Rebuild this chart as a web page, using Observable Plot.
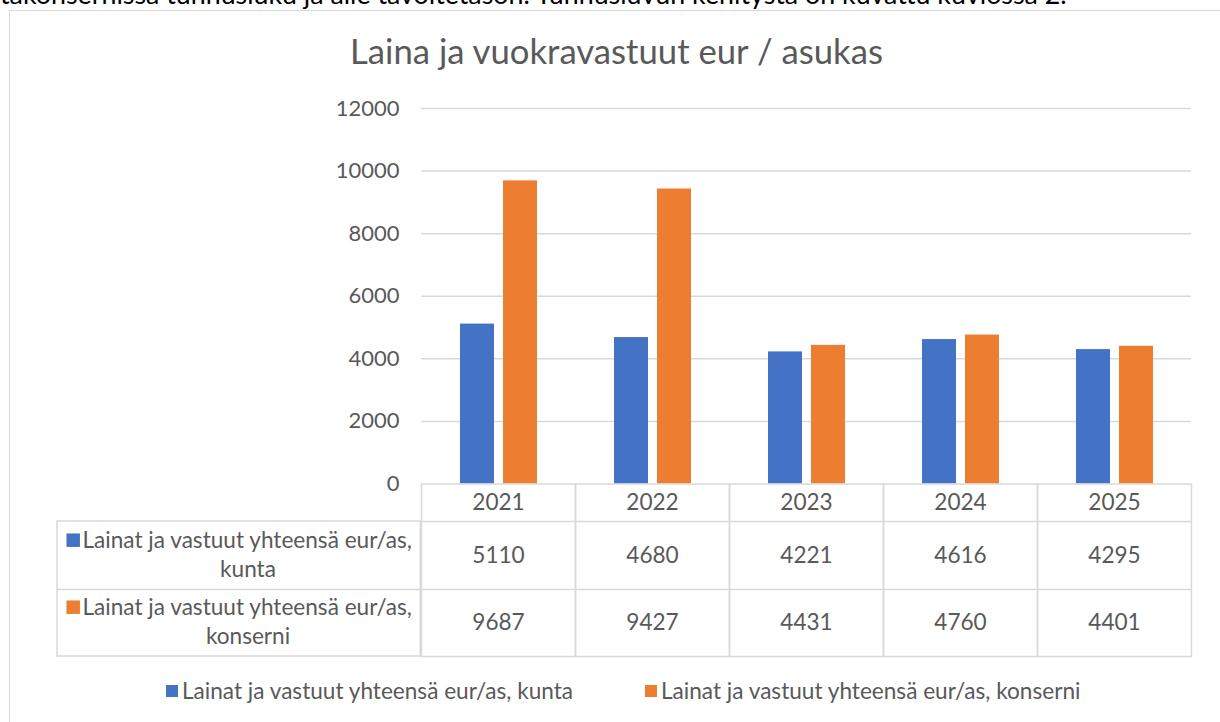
<!DOCTYPE html>
<html><head><meta charset="utf-8">
<script src="https://cdn.jsdelivr.net/npm/d3@7"></script>
<script src="https://cdn.jsdelivr.net/npm/@observablehq/plot@0.6"></script>
<style>
html,body{margin:0;padding:0;background:#fff;overflow:hidden;}
#root{position:relative;width:1220px;height:722px;overflow:hidden;font-family:Lato,"Open Sans",sans-serif;color:#595959;}
#para{position:absolute;left:0;top:-19px;font-size:26.8px;line-height:26.8px;color:#000;white-space:nowrap;}
#box{position:absolute;left:9px;top:10px;width:1240px;height:740px;border:1px solid #d9d9d9;box-sizing:border-box;}
#title{position:absolute;left:0;width:1233px;top:34px;font-size:34.7px;line-height:34.7px;text-align:center;color:#595959;}
#chart{position:absolute;left:0;top:90px;}
.leg{position:absolute;top:680px;display:flex;align-items:center;font-size:22.6px;line-height:22.6px;color:#595959;white-space:nowrap;}
.leg i{display:inline-block;width:12px;height:12px;margin-right:4px;}
</style></head><body><div id="root">
<div id="para">takonsernissa tunnusluku ja alle tavoitetason. Tunnusluvun kehitystä on kuvattu kuviossa 2.</div>
<div id="box"></div>
<div id="title">Laina ja vuokravastuut eur / asukas</div>
<div id="chart"></div>
<div id="legend"></div>
</div>
<script>
const years = ["2021","2022","2023","2024","2025"];
const seriesKeys = ["kunta","konserni"];
const seriesLabels = ["Lainat ja vastuut yhteensä eur/as, kunta","Lainat ja vastuut yhteensä eur/as, konserni"];
const rowLabelLine1 = "Lainat ja vastuut yhteensä eur/as,";
const rowLabelLine2 = ["kunta","konserni"];
const kunta = [5110,4680,4221,4616,4295];
const konserni = [9687,9427,4431,4760,4401];
const yTicks = [0,2000,4000,6000,8000,10000,12000];
const seriesColors = ["#4472C4","#ED7D31"];

const rows = years.flatMap((year,i)=>[
  {year, series:"kunta", value:kunta[i]},
  {year, series:"konserni", value:konserni[i]}
]);
const first = years[0];
const lineColor = "#d9d9d9";
const lw = 1.5;
const plotH = 580 - 18 - 186.5;
const facetW = (1220 - 419 - 27.5) / years.length;

const chart = Plot.plot({
  width:1220, height:580,
  marginLeft:419, marginRight:27.5, marginTop:18, marginBottom:186.5,
  style:{fontFamily:"Lato", fontSize:"22.6px", color:"#595959", background:"transparent", overflow:"visible"},
  fx:{domain:years, padding:0, axis:null},
  x:{domain:seriesKeys, paddingInner:0.215, paddingOuter:0.872, axis:null},
  y:{domain:[0,12000]},
  color:{domain:seriesKeys, range:seriesColors},
  marks:[
    Plot.gridY(yTicks.filter(d=>d>0), {stroke:lineColor, strokeOpacity:1, strokeWidth:lw}),
    Plot.axisY(yTicks, {tickSize:0, tickPadding:22, label:null, fontSize:22, tickFormat:d=>String(d)}),
    Plot.barY(rows, {fx:"year", x:"series", y:"value", fill:"series"}),
    // table grid
    Plot.frame({stroke:lineColor, strokeWidth:lw, insetTop:plotH, insetBottom:-172.5}),
    Plot.ruleY(years, {fx:d=>d, y:()=>0, dy:37.5, stroke:lineColor, strokeWidth:lw}),
    Plot.ruleY(years, {fx:d=>d, y:()=>0, dy:105.5, stroke:lineColor, strokeWidth:lw}),
    Plot.rect([first], {fx:d=>d, y1:()=>0, y2:()=>0, dy:37.5, insetLeft:-364, insetRight:facetW, insetBottom:-135, fill:"none", stroke:lineColor, strokeWidth:lw}),
    Plot.ruleY([first], {fx:d=>d, y:()=>0, dy:105.5, insetLeft:-364, insetRight:facetW, stroke:lineColor, strokeWidth:lw}),
    // table text
    Plot.text(years, {fx:d=>d, text:d=>d, frameAnchor:"bottom", lineAnchor:"middle", dy:19}),
    Plot.text(rows.filter(d=>d.series==="kunta"), {fx:"year", text:d=>String(d.value), frameAnchor:"bottom", lineAnchor:"middle", dy:71.5}),
    Plot.text(rows.filter(d=>d.series==="konserni"), {fx:"year", text:d=>String(d.value), frameAnchor:"bottom", lineAnchor:"middle", dy:139}),
    Plot.text([seriesKeys[0]], {fx:()=>first, text:()=>rowLabelLine1, frameAnchor:"bottom-left", textAnchor:"start", lineAnchor:"middle", dx:-339, dy:56.5}),
    Plot.text([seriesKeys[1]], {fx:()=>first, text:()=>rowLabelLine1, frameAnchor:"bottom-left", textAnchor:"start", lineAnchor:"middle", dx:-339, dy:123.5}),
    Plot.text([seriesKeys[0]], {fx:()=>first, text:()=>rowLabelLine2[0], frameAnchor:"bottom-left", textAnchor:"middle", lineAnchor:"middle", dx:-173.5, dy:86}),
    Plot.text([seriesKeys[1]], {fx:()=>first, text:()=>rowLabelLine2[1], frameAnchor:"bottom-left", textAnchor:"middle", lineAnchor:"middle", dx:-173.5, dy:153}),
    Plot.dot([seriesKeys[0]], {fx:()=>first, y:()=>0, fill:d=>d, symbol:"square", r:7.6, frameAnchor:"left", dx:-348.3, dy:56.2}),
    Plot.dot([seriesKeys[1]], {fx:()=>first, y:()=>0, fill:d=>d, symbol:"square", r:7.6, frameAnchor:"left", dx:-348.3, dy:123.2})
  ]
});
document.getElementById("chart").appendChild(chart);

const legend = document.getElementById("legend");
const legendLeft = [166, 645];
seriesLabels.forEach((label,i)=>{
  const item = document.createElement("div");
  item.className = "leg";
  item.style.left = legendLeft[i] + "px";
  const sw = document.createElement("i");
  sw.style.background = chart.scale("color").apply(seriesKeys[i]);
  item.appendChild(sw);
  item.appendChild(document.createTextNode(label));
  legend.appendChild(item);
});
</script>
</body></html>
